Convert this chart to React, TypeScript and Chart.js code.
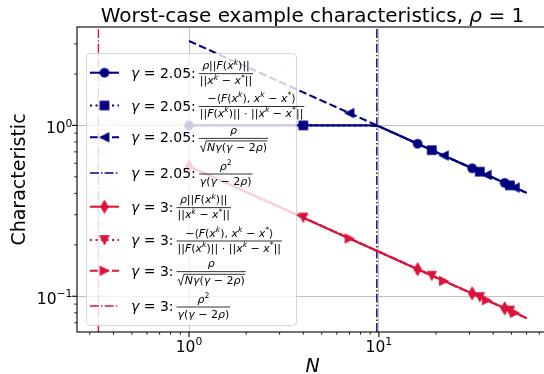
import React, { useEffect, useRef } from "react";
import { Chart, registerables } from "chart.js";

Chart.register(...registerables);

// ---------------- data ----------------
const GAMMA_A = "2.05";
const GAMMA_B = "3";

// gamma = 2.05
const N_RATIO_A = [1, 9, 10, 16, 31, 46, 60];
const Y_RATIO_A = [1.0, 1.0, 0.988, 0.781, 0.561, 0.461, 0.403];
const MARK_RATIO_A = [1, 0, 0, 1, 1, 1, 0];

const N_COS_A = [1, 4, 9, 10, 19, 34, 49, 60];
const Y_COS_A = [1.0, 1.0, 1.0, 0.988, 0.716, 0.536, 0.446, 0.403];
const MARK_COS_A = [0, 1, 0, 0, 1, 1, 1, 0];

const N_BOUND_A = [1, 7, 22, 37, 52, 60];
const Y_BOUND_A = [3.12, 1.18, 0.666, 0.513, 0.433, 0.403];
const MARK_BOUND_A = [0, 1, 1, 1, 1, 0];

const VLINE_A = 9.756;

// gamma = 3
const N_RATIO_B = [1, 16, 31, 46, 60];
const Y_RATIO_B = [0.577, 0.144, 0.104, 0.0851, 0.0745];
const MARK_RATIO_B = [1, 1, 1, 1, 0];

const N_COS_B = [1, 4, 19, 34, 49, 60];
const Y_COS_B = [0.577, 0.289, 0.132, 0.099, 0.0825, 0.0745];
const MARK_COS_B = [0, 1, 1, 1, 1, 0];

const N_BOUND_B = [1, 7, 22, 37, 52, 60];
const Y_BOUND_B = [0.577, 0.218, 0.123, 0.0949, 0.0801, 0.0745];
const MARK_BOUND_B = [0, 1, 1, 1, 1, 0];

const VLINE_B = 0.3333;

// axes
const X_LIMITS = [0.257, 77.8];
const Y_LIMITS = [0.0618, 3.765];
const X_MAJOR = [1, 10];
const X_MAJOR_EXP = ["0", "1"];
const Y_MAJOR = [0.1, 1];
const Y_MAJOR_EXP = ["\u22121", "0"];
const X_MINOR = [0.3, 0.4, 0.5, 0.6, 0.7, 0.8, 0.9, 2, 3, 4, 5, 6, 7, 8, 9, 20, 30, 40, 50, 60, 70];
const Y_MINOR = [0.07, 0.08, 0.09, 0.2, 0.3, 0.4, 0.5, 0.6, 0.7, 0.8, 0.9, 2, 3];

const TITLE = "Worst-case example characteristics, ";
const X_LABEL = "N";
const Y_LABEL = "Characteristic";

// ---------------- styles ----------------
const NAVY = "#000080";
const CRIMSON = "#dc143c";
const LW = 2.08;
const LW_V = 1.4;
const DASHED = [7.7, 3.3];
const DOTTED = [2.1, 3.4];
const DASHDOT = [8.9, 2.2, 1.4, 2.2];
const FAM = "'DejaVu Sans', 'Liberation Sans', sans-serif";
const LEGEND_ROW_Y = [72.7, 105.5, 137.3, 173, 206.7, 240, 270.7, 306];

type Tok = [string, string];

const F1_NUM: Tok[] = [["\u03c1", "i"], ["||", "r"], ["F", "i"], ["(", "r"], ["x", "i"], ["k", "^i"], [")||", "r"]];
const F1_DEN: Tok[] = [["||", "r"], ["x", "i"], ["k", "^i"], [" \u2212 ", "r"], ["x", "i"], ["*", "^r"], ["||", "r"]];
const F2_NUM: Tok[] = [["\u2212\u27e8", "r"], ["F", "i"], ["(", "r"], ["x", "i"], ["k", "^i"], ["), ", "r"], ["x", "i"], ["k", "^i"], [" \u2212 ", "r"], ["x", "i"], ["*", "^r"], ["\u27e9", "r"]];
const F2_DEN: Tok[] = [["||", "r"], ["F", "i"], ["(", "r"], ["x", "i"], ["k", "^i"], [")||", "r"], [" \u00b7 ", "r"], ["||", "r"], ["x", "i"], ["k", "^i"], [" \u2212 ", "r"], ["x", "i"], ["*", "^r"], ["||", "r"]];
const F3_NUM: Tok[] = [["\u03c1", "i"]];
const F3_DEN: Tok[] = [["N", "i"], ["\u03b3", "i"], ["(", "r"], ["\u03b3", "i"], [" \u2212 2", "r"], ["\u03c1", "i"], [")", "r"]];
const F4_NUM: Tok[] = [["\u03c1", "i"], ["2", "^r"]];
const F4_DEN: Tok[] = [["\u03b3", "i"], ["(", "r"], ["\u03b3", "i"], [" \u2212 2", "r"], ["\u03c1", "i"], [")", "r"]];

function setFont(ctx: CanvasRenderingContext2D, size: number, italic: boolean) {
  ctx.font = `${italic ? "italic " : ""}${size}px ${FAM}`;
}

function tokWidth(ctx: CanvasRenderingContext2D, toks: Tok[], size: number) {
  let w = 0;
  for (const [t, s] of toks) {
    const sup = s[0] === "^";
    setFont(ctx, sup ? size * 0.7 : size, s.endsWith("i"));
    w += ctx.measureText(t).width;
  }
  return w;
}

function drawToks(ctx: CanvasRenderingContext2D, toks: Tok[], x: number, y: number, size: number) {
  let cx = x;
  ctx.textAlign = "left";
  ctx.textBaseline = "alphabetic";
  for (const [t, s] of toks) {
    const sup = s[0] === "^";
    setFont(ctx, sup ? size * 0.7 : size, s.endsWith("i"));
    ctx.fillText(t, cx, sup ? y - size * 0.42 : y);
    cx += ctx.measureText(t).width;
  }
  return cx;
}

function drawFraction(ctx: CanvasRenderingContext2D, num: Tok[], den: Tok[], sqrt: boolean, x: number, bar: number) {
  const s = 11;
  const wn = tokWidth(ctx, num, s);
  const wd = tokWidth(ctx, den, s);
  const radW = sqrt ? s * 0.65 : 0;
  const wdt = wd + radW;
  const W = Math.max(wn, wdt) + 2;
  ctx.fillStyle = "#000";
  ctx.fillRect(x, bar - 0.4, W, 0.8);
  drawToks(ctx, num, x + (W - wn) / 2, bar - 4.4, s);
  const dx = x + (W - wdt) / 2;
  if (sqrt) {
    const dBase = bar + 12.2;
    const top = dBase - 9.6;
    ctx.beginPath();
    ctx.moveTo(dx, dBase - s * 0.33);
    ctx.lineTo(dx + s * 0.13, dBase - s * 0.4);
    ctx.lineTo(dx + s * 0.3, dBase + s * 0.12);
    ctx.lineTo(dx + s * 0.58, top);
    ctx.lineTo(dx + wdt + 0.5, top);
    ctx.strokeStyle = "#000";
    ctx.lineWidth = 0.8;
    ctx.setLineDash([]);
    ctx.stroke();
    drawToks(ctx, den, dx + radW, dBase, s);
  } else {
    drawToks(ctx, den, dx, bar + 10.6, s);
  }
}

function makeMarker(kind: string, color: string) {
  const S = 18;
  const c = document.createElement("canvas");
  c.width = S;
  c.height = S;
  const g = c.getContext("2d")!;
  const cx = S / 2;
  const cy = S / 2;
  const h = 4.15;
  g.beginPath();
  if (kind === "o") g.arc(cx, cy, h, 0, Math.PI * 2);
  else if (kind === "s") g.rect(cx - h, cy - h, 2 * h, 2 * h);
  else if (kind === "<") {
    g.moveTo(cx - h, cy); g.lineTo(cx + h, cy - h); g.lineTo(cx + h, cy + h); g.closePath();
  } else if (kind === ">") {
    g.moveTo(cx + h, cy); g.lineTo(cx - h, cy - h); g.lineTo(cx - h, cy + h); g.closePath();
  } else if (kind === "v") {
    g.moveTo(cx, cy + h); g.lineTo(cx - h, cy - h); g.lineTo(cx + h, cy - h); g.closePath();
  } else if (kind === "d") {
    const dy = 5.87, dx = 3.52;
    g.moveTo(cx, cy - dy); g.lineTo(cx + dx, cy); g.lineTo(cx, cy + dy); g.lineTo(cx - dx, cy); g.closePath();
  }
  g.fillStyle = color;
  g.fill();
  g.lineWidth = 1.39;
  g.strokeStyle = color;
  g.lineJoin = "miter";
  g.stroke();
  return c;
}

const overlayPlugin = {
  id: "overlay",
  afterDatasetsDraw(chart: any) {
    const ctx: CanvasRenderingContext2D = chart.ctx;
    const ca = chart.chartArea;
    const xs = chart.scales.x;
    const ys = chart.scales.y;
    ctx.save();
    ctx.setLineDash([]);
    // spines
    ctx.strokeStyle = "#000";
    ctx.lineWidth = 1.1;
    ctx.strokeRect(ca.left, ca.top, ca.right - ca.left, ca.bottom - ca.top);
    // ticks
    const tick = (px: number, len: number, w: number, horiz: boolean) => {
      ctx.lineWidth = w;
      ctx.beginPath();
      if (horiz) { ctx.moveTo(px, ca.bottom); ctx.lineTo(px, ca.bottom + len); }
      else { ctx.moveTo(ca.left, px); ctx.lineTo(ca.left - len, px); }
      ctx.stroke();
    };
    X_MAJOR.forEach((v) => tick(xs.getPixelForValue(v), 4.9, 1.1, true));
    X_MINOR.forEach((v) => tick(xs.getPixelForValue(v), 2.8, 0.85, true));
    Y_MAJOR.forEach((v) => tick(ys.getPixelForValue(v), 4.9, 1.1, false));
    Y_MINOR.forEach((v) => tick(ys.getPixelForValue(v), 2.8, 0.85, false));
    // tick labels
    ctx.fillStyle = "#000";
    const TS = 15.5;
    X_MAJOR.forEach((v, i) => {
      const toks: Tok[] = [["10", "r"], [X_MAJOR_EXP[i], "^r"]];
      const w = tokWidth(ctx, toks, TS);
      drawToks(ctx, toks, xs.getPixelForValue(v) - w / 2, ca.bottom + 19.5, TS);
    });
    Y_MAJOR.forEach((v, i) => {
      const toks: Tok[] = [["10", "r"], [Y_MAJOR_EXP[i], "^r"]];
      const w = tokWidth(ctx, toks, TS);
      drawToks(ctx, toks, ca.left - 4.5 - w, ys.getPixelForValue(v) + 7.7, TS);
    });
    // axis labels
    setFont(ctx, 19, true);
    ctx.textAlign = "center";
    ctx.fillText(X_LABEL, (ca.left + ca.right) / 2, 372);
    ctx.save();
    ctx.translate(25, (ca.top + ca.bottom) / 2);
    ctx.rotate(-Math.PI / 2);
    setFont(ctx, 19, false);
    ctx.textAlign = "center";
    ctx.fillText(Y_LABEL, 0, 0);
    ctx.restore();
    // title
    const tt: Tok[] = [[TITLE, "r"], ["\u03c1", "i"], [" = 1", "r"]];
    const TTS = 20;
    const tw = tokWidth(ctx, tt, TTS);
    drawToks(ctx, tt, (ca.left + ca.right) / 2 - tw / 2, 22, TTS);

    // legend
    const lg = { x: 86, y: 53, w: 210, h: 272 };
    ctx.beginPath();
    (ctx as any).roundRect(lg.x + 0.5, lg.y + 0.5, lg.w, lg.h, 4);
    ctx.fillStyle = "rgba(255,255,255,0.8)";
    ctx.fill();
    ctx.strokeStyle = "rgba(204,204,204,0.8)";
    ctx.lineWidth = 1;
    ctx.stroke();
    chart.data.datasets.forEach((ds: any, i: number) => {
      const y = LEGEND_ROW_Y[i];
      ctx.strokeStyle = ds.borderColor;
      ctx.lineWidth = ds.borderWidth;
      ctx.setLineDash(ds.borderDash || []);
      ctx.lineCap = "butt";
      ctx.beginPath();
      ctx.moveTo(90, y);
      ctx.lineTo(119, y);
      ctx.stroke();
      ctx.setLineDash([]);
      if (ds.hasMarker) {
        const img = ds.pointStyle as HTMLCanvasElement;
        ctx.drawImage(img, 104.5 - img.width / 2, y - img.height / 2);
      }
      const bar = y + 1;
      ctx.fillStyle = "#000";
      const pre: Tok[] = [["\u03b3", "i"], [" = " + ds.gamma + ":", "r"]];
      const x = drawToks(ctx, pre, 131, bar + 4, 14);
      drawFraction(ctx, ds.fracNum, ds.fracDen, !!ds.fracSqrt, x + 3, bar);
    });
    ctx.restore();
  },
};

function series(xsArr: number[], ysArr: number[]) {
  return xsArr.map((x, i) => ({ x, y: ysArr[i] }));
}

export default function App() {
  const ref = useRef<HTMLCanvasElement | null>(null);
  useEffect(() => {
    const canvas = ref.current!;
    const mk = (
      xsArr: number[], ysArr: number[], marks: number[] | null, color: string, dash: number[],
      marker: string | null, gamma: string, num: Tok[], den: Tok[], sqrt: boolean, width = LW
    ) => ({
      data: series(xsArr, ysArr),
      showLine: true,
      borderColor: color,
      backgroundColor: color,
      borderWidth: width,
      borderDash: dash,
      borderJoinStyle: "round",
      pointStyle: marker ? makeMarker(marker, color) : false,
      pointRadius: marks ? marks.map((m) => (m ? 5 : 0)) : 0,
      pointHoverRadius: 0,
      pointHitRadius: 0,
      tension: 0,
      fill: false,
      hasMarker: !!marker,
      gamma,
      fracNum: num,
      fracDen: den,
      fracSqrt: sqrt,
    });
    const datasets: any[] = [
      mk(N_RATIO_A, Y_RATIO_A, MARK_RATIO_A, NAVY, [], "o", GAMMA_A, F1_NUM, F1_DEN, false),
      mk(N_COS_A, Y_COS_A, MARK_COS_A, NAVY, DOTTED, "s", GAMMA_A, F2_NUM, F2_DEN, false),
      mk(N_BOUND_A, Y_BOUND_A, MARK_BOUND_A, NAVY, DASHED, "<", GAMMA_A, F3_NUM, F3_DEN, true),
      mk([VLINE_A, VLINE_A], [Y_LIMITS[0], Y_LIMITS[1]], null, NAVY, DASHDOT, null, GAMMA_A, F4_NUM, F4_DEN, false, LW_V),
      mk(N_RATIO_B, Y_RATIO_B, MARK_RATIO_B, CRIMSON, [], "d", GAMMA_B, F1_NUM, F1_DEN, false),
      mk(N_COS_B, Y_COS_B, MARK_COS_B, CRIMSON, DOTTED, "v", GAMMA_B, F2_NUM, F2_DEN, false),
      mk(N_BOUND_B, Y_BOUND_B, MARK_BOUND_B, CRIMSON, DASHED, ">", GAMMA_B, F3_NUM, F3_DEN, true),
      mk([VLINE_B, VLINE_B], [Y_LIMITS[0], Y_LIMITS[1]], null, CRIMSON, DASHDOT, null, GAMMA_B, F4_NUM, F4_DEN, false, LW_V),
    ];
    datasets.forEach((d, i) => (d.order = -i));
    const gridOpts = { color: "#b0b0b0", lineWidth: 0.8, drawTicks: false, tickLength: 0 };
    const chart = new Chart(canvas, {
      type: "scatter",
      data: { datasets },
      options: {
        animation: false,
        responsive: false,
        events: [],
        layout: { padding: { top: 27, right: 12, left: 0, bottom: 0 } },
        plugins: { legend: { display: false }, title: { display: false }, tooltip: { enabled: false } },
        scales: {
          x: {
            type: "logarithmic",
            min: X_LIMITS[0],
            max: X_LIMITS[1],
            grid: gridOpts,
            border: { display: false },
            ticks: { display: false },
            afterBuildTicks: (s: any) => { s.ticks = X_MAJOR.map((v) => ({ value: v })); },
            afterFit: (s: any) => { s.height = 42; },
          },
          y: {
            type: "logarithmic",
            min: Y_LIMITS[0],
            max: Y_LIMITS[1],
            grid: gridOpts,
            border: { display: false },
            ticks: { display: false },
            afterBuildTicks: (s: any) => { s.ticks = Y_MAJOR.map((v) => ({ value: v })); },
            afterFit: (s: any) => { s.width = 77; },
          },
        },
      } as any,
      plugins: [overlayPlugin],
    });
    return () => chart.destroy();
  }, []);
  return (
    <div style={{ position: "fixed", left: 0, top: 0, width: 544, height: 374, overflow: "hidden", background: "#fff" }}>
      <canvas ref={ref} width={560} height={374} style={{ display: "block", width: 560, height: 374 }} />
    </div>
  );
}
